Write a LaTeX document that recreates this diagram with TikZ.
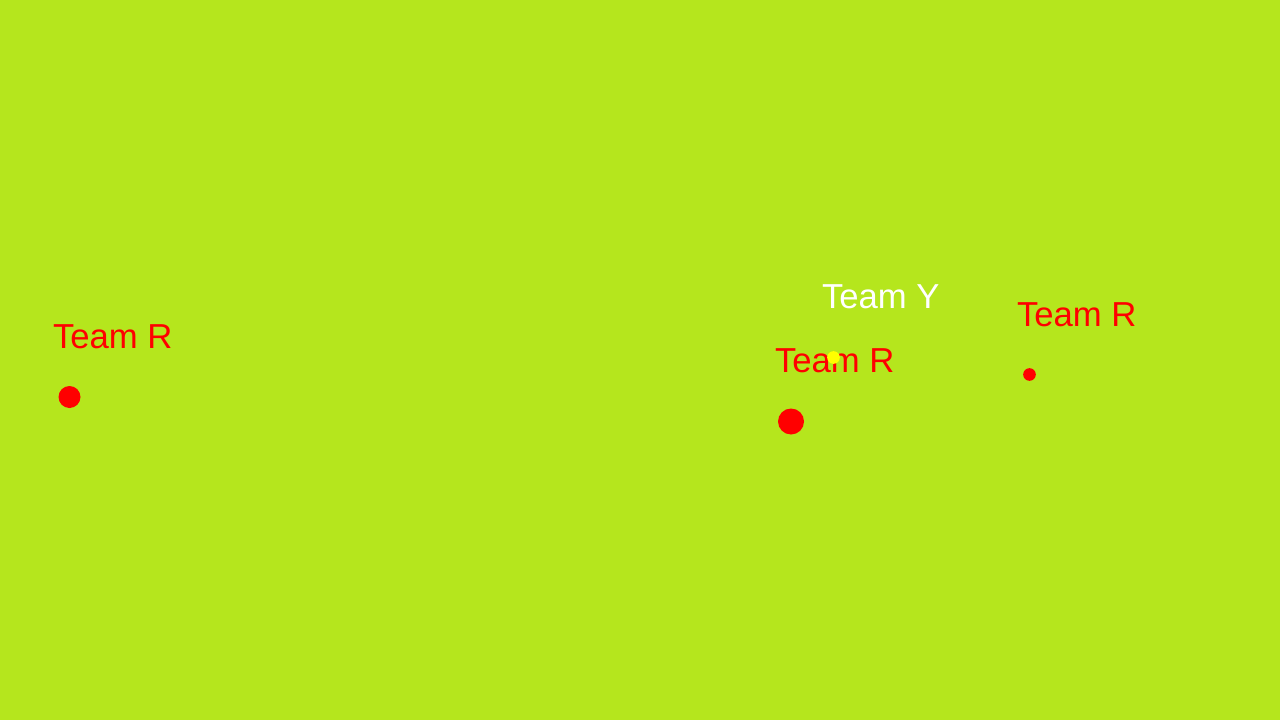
\documentclass[tikz,border=0pt]{standalone}
\usepackage{fontspec}
\setmainfont{Liberation Sans}
\definecolor{bgc}{RGB}{181,230,29}
\definecolor{redc}{RGB}{255,0,0}
\definecolor{yelc}{RGB}{255,255,0}
\tikzset{
  label/.style={anchor=base west, inner sep=0pt, outer sep=0pt, font=\fontsize{26}{26}\selectfont},
  redlabel/.style={label, text=redc},
  whitelabel/.style={label, text=white},
  dot/.style={circle, inner sep=0pt, outer sep=0pt, draw=none},
}
\begin{document}
\begin{tikzpicture}[x=0.75pt,y=-0.75pt]
\fill[bgc] (0,0) rectangle (1280,720);
\useasboundingbox (0,0) rectangle (1280,720);
% labels
\node[redlabel] (r1) at (53,348) {Team R};
\node[redlabel] (r2) at (775,372) {Team R};
\node[whitelabel] (y1) at (822,308) {Team Y};
\node[redlabel] (r3) at (1017,326) {Team R};
% dots
\node[dot, fill=redc, minimum size=16.5pt] (d1) at (69.5,397) {};
\node[dot, fill=redc, minimum size=19.5pt] (d2) at (791,421.5) {};
\node[dot, fill=yelc, minimum size=9.5pt] (d3) at (833.5,357.5) {};
\node[dot, fill=redc, minimum size=9.5pt] (d4) at (1029.5,374.5) {};
\end{tikzpicture}
\end{document}
